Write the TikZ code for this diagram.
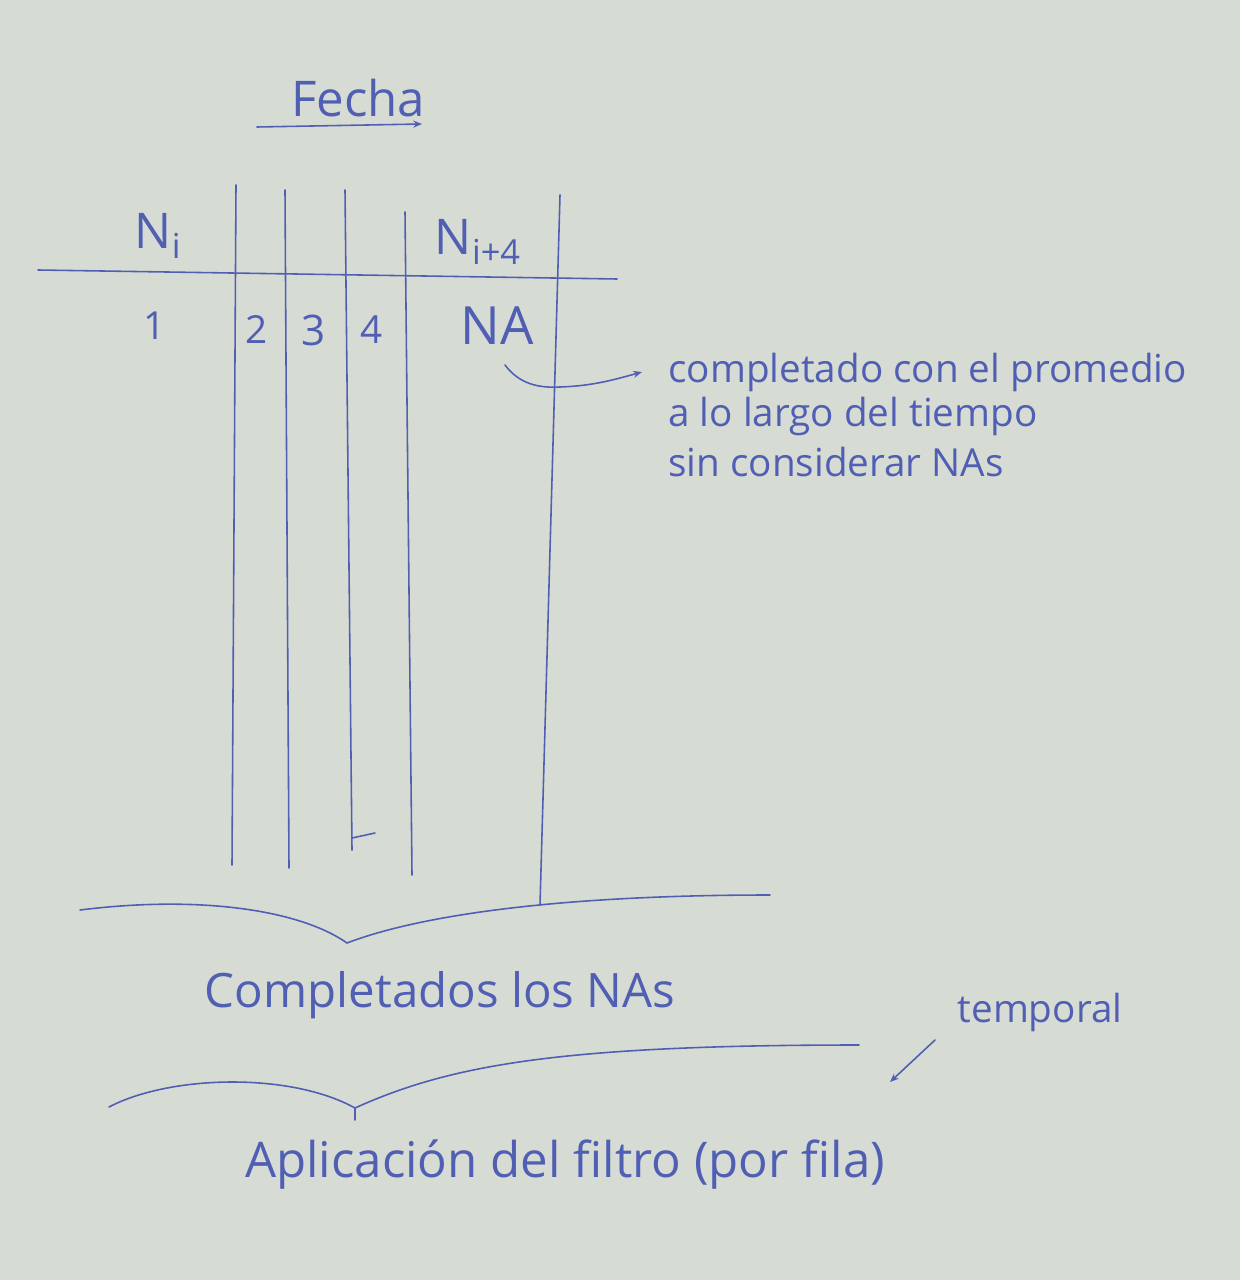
\documentclass[tikz,border=0pt]{standalone}
\usepackage{fontspec}
\setmainfont{Open Sans}
\usetikzlibrary{arrows.meta}
\definecolor{paper}{RGB}{214,220,211}
\definecolor{ink}{RGB}{80,94,180}
\begin{document}
\begin{tikzpicture}[x=0.02cm,y=-0.02cm,
  pen/.style={draw=ink, line width=0.9pt, line cap=round},
  hw/.style={text=ink, inner sep=0pt, font=\fontsize{#1}{#1}\selectfont},
  tip/.style={-{Stealth[length=5pt,width=4pt]}}
]
\fill[paper] (0,0) rectangle (1240,1280);
\useasboundingbox (0,0) rectangle (1240,1280);

% axis label
\node[hw=28] (fecha) at (358,98) {Fecha};
\coordinate (fa) at (257,127);
\coordinate (fb) at (422,124);
\draw[pen,tip] (fa) -- (fb);

% table lines
\draw[pen] (38,270) -- (617,279);
\draw[pen] (236,185) -- (232,865);
\draw[pen] (285,190) -- (289,868);
\draw[pen] (345,190) -- (352,850);
\draw[pen] (352,838) -- (375,833);
\draw[pen] (405,212) -- (412,875);
\draw[pen] (560,195) -- (540,905);

% headers
\node[hw=28] (ni) at (158,236) {N\textsubscript{i}};
\node[hw=28] (ni4) at (478,242) {N\textsubscript{i+4}};

% first row
\node[hw=22] (v1) at (155,326) {1};
\node[hw=22] (v2) at (257,330) {2};
\node[hw=24] (v3) at (314,330) {3};
\node[hw=22] (v4) at (372,330) {4};
\node[hw=30] (na) at (497,326) {NA};

% annotation
\node[hw=22, anchor=west] (ann1) at (668,372) {completado con el promedio};
\node[hw=22, anchor=west] (ann2) at (668,416) {a lo largo del tiempo};
\node[hw=22, anchor=west] (ann3) at (668,462) {sin considerar NAs};
\coordinate (aa) at (505,365);
\draw[pen,tip] (aa) .. controls (520,385) and (540,388) .. (560,387)
   .. controls (590,386) and (610,381) .. ([xshift=-0.52cm]ann1.west);

% first brace
\draw[pen] (80,910) .. controls (200,895) and (300,910) .. (347,943)
           .. controls (420,915) and (560,895) .. (770,895);
\node[hw=27] (comp) at (440,995) {Completados los NAs};

% second brace
\draw[pen] (109,1107) .. controls (170,1075) and (290,1072) .. (355,1108)
           .. controls (450,1065) and (560,1045) .. (859,1045);
\draw[pen] (355,1108) -- (355,1120);
\node[hw=28] (apl) at (565,1165) {Aplicación del filtro (por fila)};

% temporal
\node[hw=22] (temp) at (1040,1012) {temporal};
\coordinate (tt) at (890,1082);
\draw[pen,tip] (935,1040) -- (tt);
\end{tikzpicture}
\end{document}
